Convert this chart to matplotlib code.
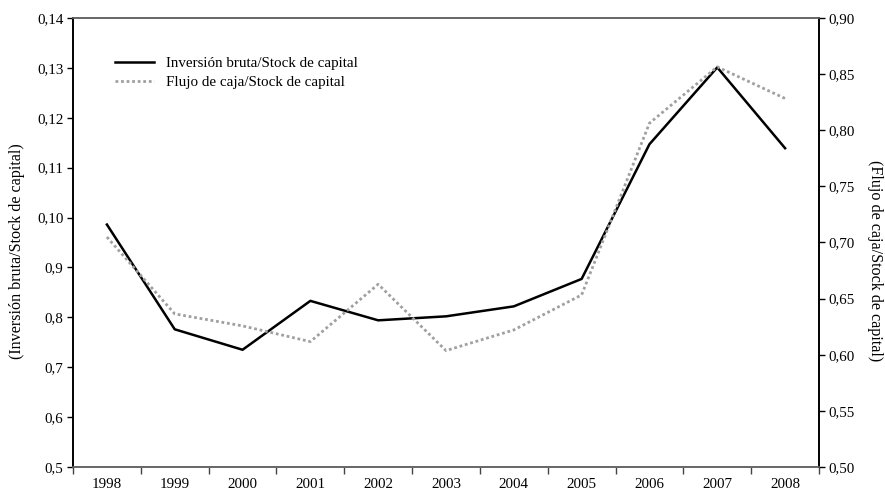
import matplotlib
matplotlib.use("Agg")
import matplotlib.pyplot as plt
from matplotlib.ticker import FixedLocator, NullFormatter

years = ["1998", "1999", "2000", "2001", "2002", "2003", "2004", "2005", "2006", "2007", "2008"]
inversion = [0.0986, 0.0776, 0.0735, 0.0833, 0.0794, 0.0802, 0.0822, 0.0877, 0.1147, 0.1301, 0.1139]
flujo = [0.7049, 0.6364, 0.6257, 0.6117, 0.6628, 0.6037, 0.6221, 0.6533, 0.8063, 0.8565, 0.8283]
left_ticks = [0.05, 0.06, 0.07, 0.08, 0.09, 0.10, 0.11, 0.12, 0.13, 0.14]
left_labels = ["0,5", "0,6", "0,7", "0,8", "0,9", "0,10", "0,11", "0,12", "0,13", "0,14"]
right_ticks = [0.50, 0.55, 0.60, 0.65, 0.70, 0.75, 0.80, 0.85, 0.90]
right_labels = ["0,50", "0,55", "0,60", "0,65", "0,70", "0,75", "0,80", "0,85", "0,90"]

plt.rcParams['font.family'] = ['Liberation Serif', 'DejaVu Serif']
fs = 10.8
fs_lab = 11.6

fig = plt.figure(figsize=(8.85, 4.9), dpi=100)
ax = fig.add_axes([73/885, 1 - 467/490, (819-73)/885, (467-18)/490])
ax2 = ax.twinx()

x = list(range(len(years)))
l1, = ax.plot(x, inversion, color='black', lw=1.8, label='Inversión bruta/Stock de capital', zorder=3)
l2, = ax2.plot(x, flujo, color='#a0a0a0', lw=2.0, linestyle=(0, (1, 1)), label='Flujo de caja/Stock de capital')

ax.set_xlim(-0.5, len(years) - 0.5)
ax.set_ylim(0.05, 0.14)
ax2.set_ylim(0.50, 0.90)

ax.xaxis.set_major_locator(FixedLocator([i - 0.5 for i in range(len(years) + 1)]))
ax.xaxis.set_major_formatter(NullFormatter())
ax.xaxis.set_minor_locator(FixedLocator(x))
ax.set_xticklabels(years, minor=True)
ax.tick_params(axis='x', which='major', length=5, width=1, color='#444444', direction='out')
ax.tick_params(axis='x', which='minor', length=0, labelsize=fs, pad=8)

ax.set_yticks(left_ticks)
ax.set_yticklabels(left_labels)
ax.tick_params(axis='y', length=4, width=1, labelsize=fs, direction='out', pad=3)
ax2.set_yticks(right_ticks)
ax2.set_yticklabels(right_labels)
ax2.tick_params(axis='y', length=4, width=1, labelsize=fs, direction='out', pad=3)

for a in (ax, ax2):
    a.spines['top'].set_color('#666666')
    a.spines['bottom'].set_color('#666666')
    a.spines['left'].set_color('black')
    a.spines['right'].set_color('black')
    for s in a.spines.values():
        s.set_linewidth(1.2)

fig.text(17/885, 1 - 251/490, '(Inversión bruta/Stock de capital)', fontsize=fs_lab,
         rotation=90, ha='center', va='center')
fig.text(875/885, 1 - 261/490, '(Flujo de caja/Stock de capital)', fontsize=fs_lab,
         rotation=270, ha='center', va='center')

leg = ax.legend(handles=[l1, l2], loc='upper left', bbox_to_anchor=(0.048, 0.928),
                frameon=False, fontsize=fs, handlelength=2.6, handletextpad=0.8,
                labelspacing=0.4, borderaxespad=0)

fig.savefig('out.png', dpi=100)
